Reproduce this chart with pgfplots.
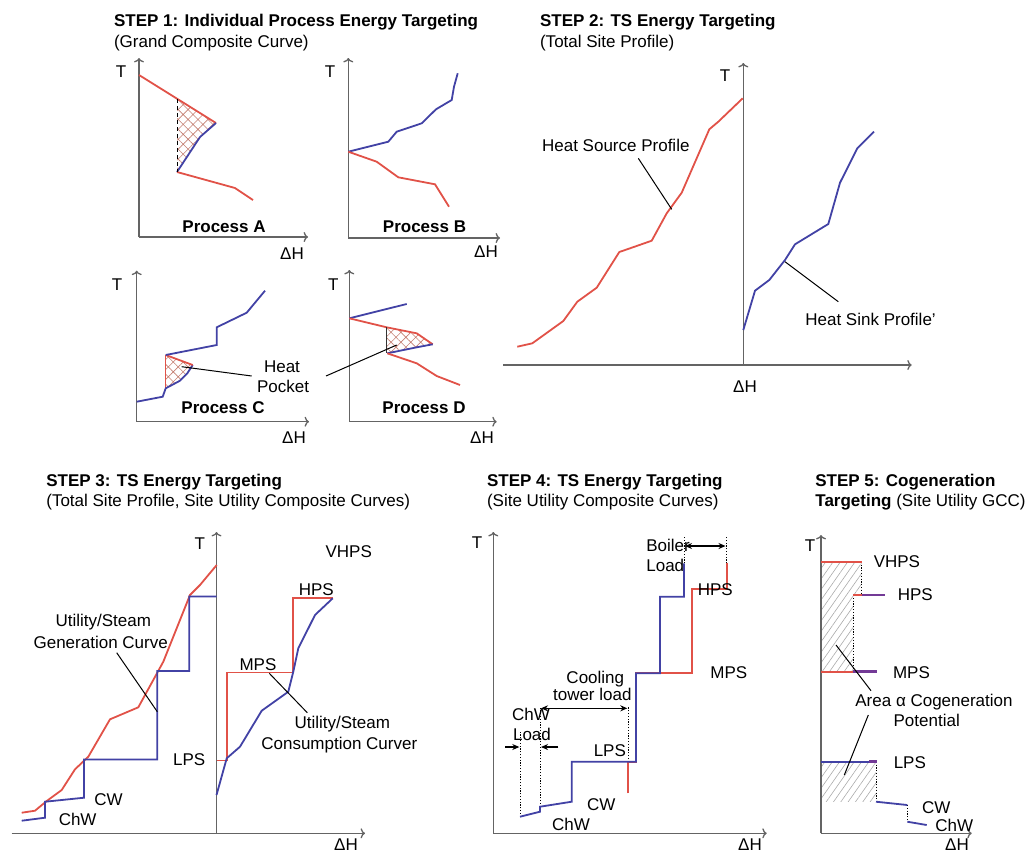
\documentclass[border=0pt]{standalone}
\usepackage{fontspec}
\setmainfont{Liberation Sans}
\usepackage{pgfplots}
\pgfplotsset{compat=1.18}
\usetikzlibrary{arrows.meta,patterns.meta}
\definecolor{cred}{RGB}{225,82,72}
\definecolor{cblue}{RGB}{66,66,165}
\definecolor{cpurp}{RGB}{115,58,150}
\definecolor{axgray}{RGB}{100,100,100}
\definecolor{hbrown}{RGB}{195,125,112}
\definecolor{hgray}{RGB}{170,170,170}
\tikzset{
 ax/.style={draw=axgray, line width=0.65pt, -{To[length=2.2pt,width=5pt]}},
 rc/.style={draw=cred, line width=0.9pt},
 bc/.style={draw=cblue, line width=0.9pt},
 pc/.style={draw=cpurp, line width=1.4pt},
 ld/.style={draw=black, line width=0.5pt},
 dt/.style={draw=black, line width=0.5pt, dash pattern=on 0.6pt off 0.8pt},
 dbl/.style={draw=black, line width=0.55pt, {Stealth[length=3.5pt,width=3pt]}-{Stealth[length=3.5pt,width=3pt]}},
 sgl/.style={draw=black, line width=0.55pt, -{Stealth[length=3.5pt,width=3pt]}},
}
\begin{document}
\begin{tikzpicture}[font=\fontsize{8.5}{10}\selectfont]
\useasboundingbox (0,0) rectangle (513pt,426pt);
\clip (0,0) rectangle (513pt,426pt);
\begin{axis}[at={(0,0)},anchor=south west,scale only axis,width=513pt,height=426pt,
 xmin=0,xmax=1026,ymin=0,ymax=852,y dir=reverse,hide axis,clip=false,
 every node/.append style={inner sep=0pt, font=\fontsize{8.5}{10}\selectfont}]

% ===== STEP 1 titles
\node[anchor=base west] at (axis cs:107,26) {\bfseries STEP 1: Individual Process Energy Targeting};
\node[anchor=base west] at (axis cs:107,47) {(Grand Composite Curve)};

% ---- Process A
\addplot[draw=none, pattern={Hatch[angle=45,distance=3.5pt,line width=0.3pt]}, pattern color=hbrown] coordinates {(177,99) (216,123) (200,137) (177,172)};
\addplot[ax] coordinates {(139,237) (139,58)};
\addplot[ax] coordinates {(139,237) (308,237)};
\addplot[rc] coordinates {(139,75) (216,123)};
\addplot[bc] coordinates {(216,123) (200,137) (177,172)};
\addplot[rc] coordinates {(177,172) (235,188) (253,200)};
\addplot[draw=black, line width=0.45pt, dash pattern=on 2pt off 1.5pt] coordinates {(177,99) (177,172)};
\node[anchor=base] at (axis cs:121,77) {T};
\node[anchor=base] at (axis cs:224,232) {\bfseries Process A};
\node[anchor=base] at (axis cs:292,259) {\char"0394 H};

% ---- Process B
\addplot[ax] coordinates {(348.3,238) (348.3,58)};
\addplot[ax] coordinates {(348.3,238) (500,238)};
\addplot[bc] coordinates {(348.3,151.7) (388.3,141.7) (396.7,131.7) (421.7,123.3) (436,109.3) (451.7,100) (454,86.7) (457.7,73.3)};
\addplot[rc] coordinates {(348.3,151.7) (376.7,161.7) (398.3,177.3) (435,184.3) (449,206.7)};
\node[anchor=base] at (axis cs:330,77) {T};
\node[anchor=base] at (axis cs:424.5,232) {\bfseries Process B};
\node[anchor=base] at (axis cs:486,257) {\char"0394 H};

% ---- Process C
\addplot[draw=none, pattern={Hatch[angle=45,distance=3.5pt,line width=0.3pt]}, pattern color=hbrown] coordinates {(165.7,355) (192.7,365) (187.3,373.3) (180,380.7) (165.7,388.3)};
\addplot[ax] coordinates {(136.7,421.7) (136.7,270.7)};
\addplot[ax] coordinates {(136.7,421.7) (309,421.7)};
\addplot[draw=cred, line width=0.4pt] coordinates {(165.7,355) (165.7,388.3)};
\addplot[bc] coordinates {(136.7,401.7) (162.7,396.7) (165.7,388.3) (180,380.7) (187.3,373.3) (192.7,365)};
\addplot[rc] coordinates {(192.7,365) (165.7,355)};
\addplot[bc] coordinates {(165.7,355) (216.7,345) (216.7,327.3) (246.7,312.7) (265,290.7)};
\addplot[ld] coordinates {(181.7,366.7) (251.7,376)};
\node[anchor=base] at (axis cs:117,290) {T};
\node[anchor=base] at (axis cs:282,372.7) {Heat};
\node[anchor=base] at (axis cs:283,392.7) {Pocket};
\node[anchor=base] at (axis cs:223,413) {\bfseries Process C};
\node[anchor=base] at (axis cs:294,443) {\char"0394 H};

% ---- Process D
\addplot[draw=none, pattern={Hatch[angle=45,distance=3.5pt,line width=0.3pt]}, pattern color=hbrown] coordinates {(386.7,327.3) (416.7,333.3) (432.7,344.3) (416.7,347.3) (387.3,353.3)};
\addplot[ax] coordinates {(349.3,421.7) (349.3,270)};
\addplot[ax] coordinates {(349.3,421.7) (496.7,421.7)};
\addplot[bc] coordinates {(349.3,318.3) (406.7,304)};
\addplot[rc] coordinates {(349.3,318.3) (386.7,327.3) (416.7,333.3) (432.7,344.3)};
\addplot[bc] coordinates {(432.7,344.3) (416.7,347.3) (387.3,353.3)};
\addplot[rc] coordinates {(387.3,353.3) (416.7,363.3) (436.7,376) (460,385)};
\addplot[draw=black!80, line width=0.45pt] coordinates {(386.7,327.3) (386.7,353.3)};
\addplot[ld] coordinates {(326,376) (396.7,345)};
\node[anchor=base] at (axis cs:333.3,290) {T};
\node[anchor=base] at (axis cs:424,413) {\bfseries Process D};
\node[anchor=base] at (axis cs:482,443) {\char"0394 H};

% ===== STEP 2
\node[anchor=base west] at (axis cs:533,26) {\bfseries STEP 2: TS Energy Targeting};
\node[anchor=base west] at (axis cs:533,47) {(Total Site Profile)};
\addplot[ax] coordinates {(743.3,365) (743.3,63)};
\addplot[ax] coordinates {(503.3,365) (911.7,365)};
\addplot[rc] coordinates {(517.3,346.7) (532.3,343.3) (563.3,321) (577.3,301.7) (596.7,287.7) (619.3,252) (630,248.3) (651.7,240.7) (666.7,213.3) (681.7,192.7) (709.3,129.3) (718.3,121.7) (742.7,98.3)};
\addplot[bc] coordinates {(743.3,330) (755,290.7) (769.3,280) (785,260) (795,244.3) (828.3,224) (840,182.7) (857.3,148.3) (874,131.7)};
\addplot[ld] coordinates {(638.3,158.3) (671.7,209.3)};
\addplot[ld] coordinates {(785,261.7) (838.3,301.7)};
\node[anchor=base] at (axis cs:725,81.7) {T};
\node[anchor=base] at (axis cs:745,392) {\char"0394 H};
\node[anchor=base] at (axis cs:615.8,151.7) {Heat Source Profile};
\node[anchor=base west] at (axis cs:798.3,325) {Heat Sink Profile\textquoteright};

% ===== STEP 3
\node[anchor=base west] at (axis cs:39.3,486.7) {\bfseries STEP 3: TS Energy Targeting};
\node[anchor=base west] at (axis cs:39.3,506.7) {(Total Site Profile, Site Utility Composite Curves)};
\addplot[ax] coordinates {(216.5,833.3) (216.5,532)};
\addplot[ax] coordinates {(11.7,833.3) (365,833.3)};
\addplot[rc] coordinates {(21.7,812.7) (35,810.7) (46.7,801) (61.7,790) (75,769.3) (88.3,756.7) (110,719.3) (138.3,707.3) (163.3,661.7) (190,595) (200,585) (216.7,565)};
\addplot[bc] coordinates {(21.7,820.7) (45,817.7) (45,801.7) (84,797.7) (84,759.5) (157.3,759.5) (157.3,671) (189.3,671) (189.3,596.5) (216.5,596.5)};
\addplot[rc] coordinates {(216.5,760.5) (226.7,760.5) (226.7,672.5) (293.3,672.5) (293.3,597.7) (332.7,597.7)};
\addplot[bc] coordinates {(216.5,795) (226.7,758.3) (240,746.7) (261.7,710.7) (288.3,691.7) (293.3,671.7) (298.3,648.3) (315,615) (332.7,598.3)};
\addplot[ld] coordinates {(116.7,652.7) (157.3,711.7)};
\addplot[ld] coordinates {(269.3,673.3) (307.3,712.7)};
\node[anchor=base east] at (axis cs:212,549) {T};
\node[anchor=base] at (axis cs:346,850.5) {\char"0394 H};
\node[anchor=base] at (axis cs:103.3,626.7) {Utility/Steam};
\node[anchor=base] at (axis cs:100.7,648.3) {Generation Curve};
\node[anchor=base west] at (axis cs:166,765) {LPS};
\node[anchor=base west] at (axis cs:87.3,805) {CW};
\node[anchor=base west] at (axis cs:51.7,825.7) {ChW};
\node[anchor=base] at (axis cs:348.7,557.3) {VHPS};
\node[anchor=base] at (axis cs:316.3,595) {HPS};
\node[anchor=base] at (axis cs:258,670) {MPS};
\node[anchor=base] at (axis cs:342.3,728.3) {Utility/Steam};
\node[anchor=base] at (axis cs:339.3,749.3) {Consumption Curver};

% ===== STEP 4
\node[anchor=base west] at (axis cs:480,486.7) {\bfseries STEP 4: TS Energy Targeting};
\node[anchor=base west] at (axis cs:480,506.7) {(Site Utility Composite Curves)};
\addplot[ax] coordinates {(493.3,833.3) (493.3,532)};
\addplot[ax] coordinates {(493.3,833.3) (766.7,833.3)};
\addplot[dt] coordinates {(520,816.7) (520,731.7)};
\addplot[dt] coordinates {(540,806.7) (540,708)};
\addplot[dt] coordinates {(628.3,761.7) (628.3,706.7)};
\addplot[dt] coordinates {(684,563.3) (684,536.7)};
\addplot[dt] coordinates {(726.7,563.3) (726.7,536.7)};
\addplot[rc] coordinates {(628.3,793.3) (628.3,761.7) (636,761.7) (636,673.3) (691.7,673.3) (691.7,589.3) (726.7,589.3) (726.7,563.3)};
\addplot[bc] coordinates {(520,816.7) (540,811.7) (540,806.7) (571.7,801.7) (571.7,761.7) (636,761.7) (636,673.3) (660,673.3) (660,596.7) (684,596.7) (684,563.3)};
\addplot[dbl] coordinates {(685,546) (725.5,546)};
\addplot[dbl] coordinates {(541,708.3) (627.3,708.3)};
\addplot[sgl] coordinates {(505,747) (519.3,747)};
\addplot[sgl] coordinates {(558.3,747) (541,747)};
\node[anchor=base] at (axis cs:477,548) {T};
\node[anchor=base] at (axis cs:750,850.5) {\char"0394 H};
\node[anchor=base west] at (axis cs:639.3,551.7) {Boiler};
\node[anchor=base west] at (axis cs:639.3,571) {Load};
\node[anchor=base west] at (axis cs:690.7,595) {HPS};
\node[anchor=base west] at (axis cs:703.3,678.3) {MPS};
\node[anchor=base] at (axis cs:595.3,683.3) {Cooling};
\node[anchor=base] at (axis cs:592.3,700.7) {tower load};
\node[anchor=base west] at (axis cs:505,720) {ChW};
\node[anchor=base west] at (axis cs:506,740) {Load};
\node[anchor=base west] at (axis cs:586.7,756.7) {LPS};
\node[anchor=base west] at (axis cs:580,810) {CW};
\node[anchor=base west] at (axis cs:545,830) {ChW};

% ===== STEP 5
\node[anchor=base west] at (axis cs:808.3,486) {\bfseries STEP 5: Cogeneration};
\node[anchor=base west] at (axis cs:808.3,506.7) {\textbf{Targeting} (Site Utility GCC)};
\addplot[draw=none, pattern={Lines[angle=55,distance=3pt,line width=0.3pt]}, pattern color=hgray] coordinates {(821,561.7) (861.7,561.7) (861.7,595) (853.3,595) (853.3,671.7) (821,671.7)};
\addplot[draw=none, pattern={Lines[angle=55,distance=3pt,line width=0.3pt]}, pattern color=hgray] coordinates {(821,761.7) (876,761.7) (876,801.7) (821,801.7)};
\addplot[ax] coordinates {(821,833.3) (821,535)};
\addplot[ax] coordinates {(821,833.3) (971.7,833.3)};
\addplot[dt] coordinates {(861.7,561.7) (861.7,595)};
\addplot[dt] coordinates {(853.3,595) (853.3,671.7)};
\addplot[dt] coordinates {(876,761.7) (876,801.7)};
\addplot[dt] coordinates {(907.3,805) (907.3,821.7)};
\addplot[rc] coordinates {(821,561.7) (861.7,561.7)};
\addplot[rc] coordinates {(853.3,595) (862,595)};
\addplot[pc] coordinates {(861.7,595) (885,595)};
\addplot[rc] coordinates {(821,671.7) (853.3,671.7)};
\addplot[pc] coordinates {(853.3,671.7) (877.3,671.7)};
\addplot[bc] coordinates {(821,761.7) (870,761.7)};
\addplot[pc] coordinates {(869,761.7) (877.3,761.7)};
\addplot[bc] coordinates {(876,801.7) (907.3,805)};
\addplot[bc] coordinates {(907.3,821.7) (926.7,825)};
\addplot[ld] coordinates {(836,645) (871,690.7)};
\addplot[ld] coordinates {(868.3,715) (844.3,775)};
\node[anchor=base] at (axis cs:810,551) {T};
\node[anchor=base] at (axis cs:957,850.5) {\char"0394 H};
\node[anchor=base west] at (axis cs:866.7,567.3) {VHPS};
\node[anchor=base west] at (axis cs:890.7,600.7) {HPS};
\node[anchor=base west] at (axis cs:886,678.3) {MPS};
\node[anchor=base] at (axis cs:934,706.7) {Area \char"03B1\ Cogeneration};
\node[anchor=base] at (axis cs:926.7,726.7) {Potential};
\node[anchor=base west] at (axis cs:886.7,768.3) {LPS};
\node[anchor=base west] at (axis cs:915,813.3) {CW};
\node[anchor=base west] at (axis cs:928.3,831.7) {ChW};
\end{axis}
\end{tikzpicture}
\end{document}
